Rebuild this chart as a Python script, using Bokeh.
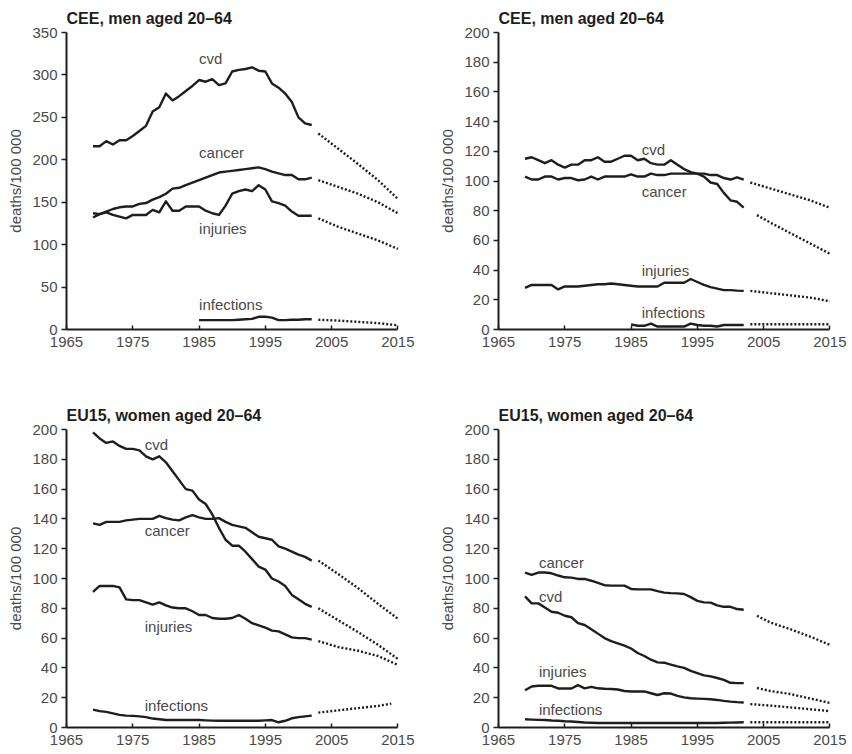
from bokeh.plotting import figure
from bokeh.layouts import column, row
from bokeh.models import Range1d, FixedTicker
from bokeh.core.properties import value
from bokeh.embed import file_html
from bokeh.resources import INLINE

# ---------------- data ----------------
YEARS = list(range(1969, 2003))
X_TICKS = [1965, 1975, 1985, 1995, 2005, 2015]
PROJ_YEARS = [2003, 2006, 2009, 2012, 2015]
PROJ_YEARS_LATE = [2004, 2006, 2009, 2012, 2015]
PROJ_YEARS_SHORT = [2003, 2006, 2009, 2012, 2014]
CEE_INF_YEARS = list(range(1985, 2003))

# CEE, men aged 20-64 (left panel)
CEE1_CVD = [216, 216, 222, 218, 223, 223, 228, 234, 240, 257, 262, 278, 270, 275, 281, 287, 294,
            292, 295, 288, 290, 304, 306, 307, 309, 305, 304, 290, 285, 278, 268, 250, 243, 241]
CEE1_CANCER = [132, 136, 139, 142, 144, 145, 145, 148, 149, 153, 156, 160, 166, 167, 170, 173, 176,
               179, 182, 185, 186, 187, 188, 189, 190, 191, 189, 186, 184, 182, 182, 177, 177, 179]
CEE1_INJ = [137, 136, 138, 135, 133, 131, 135, 135, 135, 141, 138, 151, 140, 140, 145, 145, 145,
            140, 137, 135, 146, 160, 163, 165, 163, 170, 165, 151, 149, 146, 139, 134, 134, 134]
CEE1_INF = [11, 11, 11, 11, 11, 11, 11.5, 12, 12.5, 15, 15, 14, 11, 11, 11.5, 11.5, 12, 12]
CEE1_CVD_P = [231, 213, 195, 176, 154]
CEE1_CANCER_P = [176, 168, 160, 150, 137]
CEE1_INJ_P = [131, 121, 113, 105, 95]
CEE1_INF_P = [11.5, 10.5, 9, 7.5, 5]

# CEE, men aged 20-64 (right panel)
CEE2_CVD = [115, 116, 114, 112, 114, 111, 109, 111, 111, 114, 114, 116, 113, 113, 115, 117, 117,
            114, 115, 112, 111, 111, 114, 111, 108, 106, 105, 103, 99, 98, 92, 87, 86, 82]
CEE2_CANCER = [103, 101, 101, 103, 103, 101, 102, 102, 100.5, 101, 103, 101, 103, 103, 103, 103, 104.5,
               103, 103, 105, 104, 104, 105, 105, 105, 105, 105, 105, 104, 104, 102, 101, 102.5, 101]
CEE2_INJ = [28, 30, 30, 30, 30, 27, 29, 29, 29, 29.5, 30, 30.5, 30.5, 31, 30.5, 30, 29.5,
            29, 29, 29, 29, 31.5, 31.5, 31.5, 31.5, 34, 32, 30, 28.5, 27.5, 26.5, 26.5, 26.2, 26]
CEE2_INF = [3.5, 2.5, 2.5, 4, 2, 2, 2, 2, 2, 4, 3, 2.5, 2.5, 2, 3, 3, 3, 3]
CEE2_CVD_P = [77, 72, 65, 58, 51]
CEE2_CANCER_P = [99, 95, 91, 87, 82]
CEE2_INJ_P = [26, 24.5, 23, 21.5, 19]
CEE2_INF_P = [3.5, 3.5, 3.5, 3.5, 3.5]

# EU15, women aged 20-64 (left panel)
EU1_CVD = [198, 194, 191, 192, 189, 187, 187, 186, 182, 180, 182, 178, 172, 166, 160, 159, 153,
           150, 143, 134, 126, 122, 122, 118, 113, 108, 106, 100, 98, 95, 89, 86, 83, 81]
EU1_CANCER = [137, 136, 138, 138, 138, 139, 139.5, 140, 140, 140, 142, 140.5, 139.5, 139, 141, 142.5, 141,
              140, 140, 140.5, 138, 136, 135, 134, 131, 128, 127, 126, 121.5, 120, 118, 116, 114.5, 112]
EU1_INJ = [91, 95, 95, 95, 94, 86, 85.5, 85.5, 84, 82.5, 84, 82, 80.5, 80, 80, 78, 75.5,
           75.5, 73.5, 73, 73, 73.5, 75.5, 73, 70, 68.5, 67, 65, 64.5, 62.5, 60.5, 60, 60, 59]
EU1_INF = [12, 11, 10.5, 9.5, 8.5, 8, 7.8, 7.5, 7, 6, 5.5, 5, 5, 5, 5, 5, 5,
           4.8, 4.6, 4.5, 4.5, 4.5, 4.5, 4.5, 4.5, 4.5, 4.8, 5, 3.5, 4.5, 6.2, 7, 7.5, 8]
EU1_CVD_P = [80, 72, 64, 55.5, 46]
EU1_CANCER_P = [112, 103, 93.5, 83, 73]
EU1_INJ_P = [58, 54, 51.5, 48, 42]
EU1_INF_P = [10, 11.5, 13, 14.5, 16]

# EU15, women aged 20-64 (right panel)
EU2_CANCER = [104, 102.5, 104, 104, 103.5, 102, 100.8, 100.6, 99.7, 99.7, 98.5, 97, 95.5, 95.2, 95.2, 95.2, 93,
              92.7, 92.7, 92.7, 91.5, 90.5, 90.2, 90, 89.6, 87.5, 85, 84, 83.8, 82, 81, 81, 79.5, 79]
EU2_CVD = [88, 83.3, 83.3, 80.5, 77.7, 77, 75, 74, 70, 68.8, 66, 63, 60, 58, 56.5, 55, 53,
           50, 48, 45.5, 43.7, 43.5, 42.2, 41, 40, 38, 36.5, 35, 34.3, 33.2, 32, 30, 29.8, 29.8]
EU2_INJ = [25, 27.5, 28, 28, 28, 26.2, 26.2, 26.2, 28.4, 26.3, 27.3, 26.3, 26, 25.8, 25.5, 24.5, 24.2,
           24.2, 24.2, 23, 21.8, 23, 22.8, 21.2, 20.2, 19.6, 19.4, 19.2, 19, 18.5, 17.9, 17.4, 17, 16.8]
EU2_INF = [5.5, 5.3, 5.1, 5, 4.7, 4.5, 4.2, 4, 3.7, 3.4, 3.2, 3, 3, 3, 3, 3, 3,
           3, 3, 3, 3, 3, 3, 3, 3, 3, 3, 3, 3, 3, 3.2, 3.3, 3.4, 3.5]
EU2_CANCER_P = [75, 70.5, 66, 61, 55.5]
EU2_CVD_P = [26.5, 24.5, 22.5, 19.5, 16.5]
EU2_INJ_P = [15.7, 14.7, 13.5, 12.3, 11]
EU2_INF_P = [3.5, 3.5, 3.5, 3.5, 3.5]

LABEL_NAMES = ["cvd", "cancer", "injuries", "infections"]

# ---------------- style ----------------
INK = "#1e1e1e"
GREY = "#4a4a4a"
FONT = "Liberation Sans"


def make_panel(title, ymax, ystep, solid, dotted, label_xy, w, h, mbl, mbr, mbt, mbb):
    p = figure(width=w, height=h,
               x_range=Range1d(1965, 2016), y_range=Range1d(0, ymax),
               output_backend="svg", toolbar_location=None,
               min_border_left=mbl, min_border_right=mbr,
               min_border_top=mbt, min_border_bottom=mbb)
    p.title.text = title
    p.title.text_font = FONT
    p.title.text_font_size = "16px"
    p.title.text_font_style = "bold"
    p.title.text_color = INK
    p.title.align = "left"
    p.title.standoff = 12
    p.xgrid.visible = False
    p.ygrid.visible = False
    p.outline_line_color = None
    p.background_fill_color = "white"

    xa = p.xaxis[0]
    xa.ticker = FixedTicker(ticks=X_TICKS)
    xa.bounds = (1965, 2015)
    xa.major_tick_in = 4
    xa.major_tick_out = 0
    xa.minor_tick_line_color = None
    xa.major_label_standoff = 7

    ya = p.yaxis[0]
    ya.ticker = FixedTicker(ticks=list(range(0, ymax + 1, ystep)))
    ya.major_tick_in = 0
    ya.major_tick_out = 5
    ya.minor_tick_line_color = None
    ya.major_label_standoff = 4
    ya.axis_label = "deaths/100 000"
    ya.axis_label_standoff = 5

    for ax in (xa, ya):
        ax.axis_line_color = INK
        ax.axis_line_width = 2
        ax.major_tick_line_color = INK
        ax.major_tick_line_width = 1.5
        ax.major_label_text_font = FONT
        ax.major_label_text_font_size = "15px"
        ax.major_label_text_color = GREY
        ax.axis_label_text_font = FONT
        ax.axis_label_text_font_size = "15px"
        ax.axis_label_text_font_style = "normal"
        ax.axis_label_text_color = GREY

    for xs, ys in solid:
        p.line(xs, ys, line_color=INK, line_width=2.4, line_join="round")
    for xs, ys in dotted:
        p.line(xs, ys, line_color=INK, line_width=2.4, line_dash="2 2")

    lx = [xy[0] for xy in label_xy]
    ly = [xy[1] for xy in label_xy]
    p.text(x=lx, y=ly, text=LABEL_NAMES, text_font=value(FONT), text_font_size="15px",
           text_color=GREY, text_align="left", text_baseline="middle")
    return p


p1 = make_panel("CEE, men aged 20–64", 350, 50,
                [(YEARS, CEE1_CVD), (YEARS, CEE1_CANCER), (YEARS, CEE1_INJ), (CEE_INF_YEARS, CEE1_INF)],
                [(PROJ_YEARS, CEE1_CVD_P), (PROJ_YEARS, CEE1_CANCER_P), (PROJ_YEARS, CEE1_INJ_P),
                 (PROJ_YEARS, CEE1_INF_P)],
                [(1985, 319), (1985, 208), (1985, 119), (1985, 29.5)],
                426, 397, 66, 22, 32, 68)
p2 = make_panel("CEE, men aged 20–64", 200, 20,
                [(YEARS, CEE2_CVD), (YEARS, CEE2_CANCER), (YEARS, CEE2_INJ), (CEE_INF_YEARS, CEE2_INF)],
                [(PROJ_YEARS_LATE, CEE2_CVD_P), (PROJ_YEARS, CEE2_CANCER_P), (PROJ_YEARS, CEE2_INJ_P),
                 (PROJ_YEARS, CEE2_INF_P)],
                [(1986.6, 121), (1986.6, 93), (1986.6, 40), (1986.6, 11.7)],
                426, 397, 72, 16, 32, 68)
p3 = make_panel("EU15, women aged 20–64", 200, 20,
                [(YEARS, EU1_CVD), (YEARS, EU1_CANCER), (YEARS, EU1_INJ), (YEARS, EU1_INF)],
                [(PROJ_YEARS, EU1_CVD_P), (PROJ_YEARS, EU1_CANCER_P), (PROJ_YEARS, EU1_INJ_P),
                 (PROJ_YEARS_SHORT, EU1_INF_P)],
                [(1976.8, 190), (1976.8, 132), (1976.8, 68), (1976.8, 15)],
                426, 356, 66, 22, 32, 26)
p4 = make_panel("EU15, women aged 20–64", 200, 20,
                [(YEARS, EU2_CVD), (YEARS, EU2_CANCER), (YEARS, EU2_INJ), (YEARS, EU2_INF)],
                [(PROJ_YEARS_LATE, EU2_CVD_P), (PROJ_YEARS_LATE, EU2_CANCER_P), (PROJ_YEARS, EU2_INJ_P),
                 (PROJ_YEARS, EU2_INF_P)],
                [(1971.1, 88), (1971.1, 111), (1971.1, 37.4), (1971.1, 12.3)],
                426, 356, 72, 16, 32, 26)

layout = column(row(p1, p2), row(p3, p4))
open("out.html", "w").write(file_html(layout, INLINE))
